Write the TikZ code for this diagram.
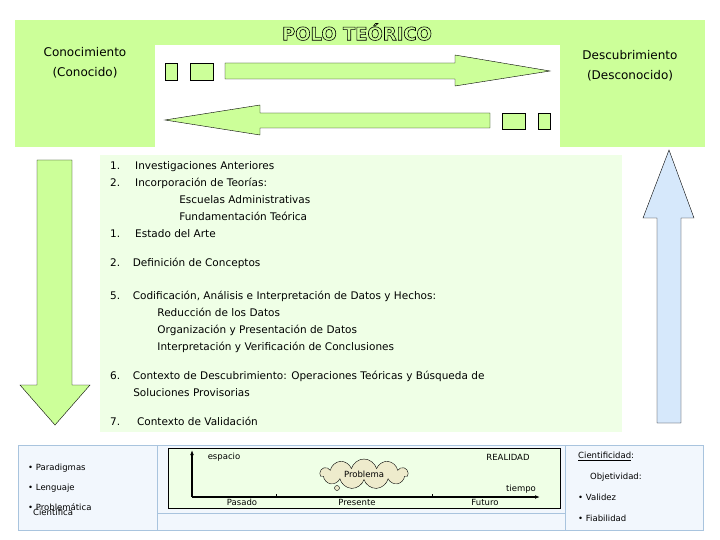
\documentclass[tikz,border=0pt]{standalone}
\usepackage{fontspec}
\setmainfont{DejaVu Sans}
\usetikzlibrary{shapes.symbols,arrows.meta}
\definecolor{lgreen}{HTML}{CCFF99}
\definecolor{pgreen}{HTML}{EFFFE6}
\definecolor{lblue}{HTML}{D6E8FB}
\definecolor{pblue}{HTML}{F2F7FD}
\definecolor{bblue}{HTML}{A9C4DE}
\definecolor{cloudc}{HTML}{EEEBCC}
\begin{document}
\begin{tikzpicture}[x=1pt,y=-1pt,
    font=\fontsize{10.5}{17}\selectfont,
    arr/.style={draw=black, fill=lgreen},
    panel/.style={draw=bblue, fill=pblue},
    item/.style={anchor=west, align=left, inner sep=0pt}
]
\useasboundingbox (0,0) rectangle (720,540);

% Polos
\fill[lgreen] (15,20) rectangle (705,147);
\fill[white] (155,45) rectangle (560,147);
\node (conocido) at (85,63) [align=center, font=\fontsize{12}{20}\selectfont] {Conocimiento\\(Conocido)};
\node (desconocido) at (630,66) [align=center, font=\fontsize{12}{20}\selectfont] {Descubrimiento\\(Desconocido)};
\node (polo) at (357,32) [font=\bfseries\fontsize{18}{18}\selectfont] {\special{pdf:code 1 Tr 0.6 w}POLO TEÓRICO\special{pdf:code 0 Tr}};

% Flechas horizontales
\draw[arr] (165,63) rectangle (177,80);
\draw[arr] (190,63) rectangle (213,80);
\draw[arr] (225,63) -- (455,63) -- (455,55) -- (550,71) -- (455,86) -- (455,79) -- (225,79) -- cycle;
\draw[arr] (538,113) rectangle (550,129);
\draw[arr] (502,113) rectangle (525,129);
\draw[arr] (490,113) -- (260,113) -- (260,105) -- (165,120) -- (260,135) -- (260,128) -- (490,128) -- cycle;

% Flechas verticales
\draw[arr] (37,160) -- (72,160) -- (72,385) -- (90,385) -- (55,425) -- (20,385) -- (37,385) -- cycle;
\draw[arr, fill=lblue] (657,423) -- (657,218) -- (643,218) -- (669,150) -- (694,218) -- (681,218) -- (681,423) -- cycle;

% Contenido
\fill[pgreen] (100,155) rectangle (622,432);
\node[item] (l1) at (110,200) {1.\\2.\\\\\\1.};
\node[item] (t1) at (135,200) {Investigaciones Anteriores\\Incorporación de Teorías:\\
  \hspace{4.2em}Escuelas Administrativas\\\hspace{4.2em}Fundamentación Teórica\\Estado del Arte};
\node[item] (t2) at (110,263) {2.\hspace{1.2em}Definición de Conceptos};
\node[item] (t5) at (110,322) {5.\hspace{1.2em}Codificación, Análisis e Interpretación de Datos y Hechos:\\
  \hspace{4.5em}Reducción de los Datos\\\hspace{4.5em}Organización y Presentación de Datos\\\hspace{4.5em}Interpretación y Verificación de Conclusiones};
\node[item] (t6) at (110,384) {6.\hspace{1.2em}Contexto de Descubrimiento: Operaciones Teóricas y Búsqueda de\\\hspace{2.2em}Soluciones Provisorias};
\node[item] (t7) at (110,421) {7.\hspace{1.6em}Contexto de Validación};

% Paneles inferiores
\draw[panel] (150,445) rectangle (565,530);
\draw[bblue] (150,513) -- (565,513);
\draw[panel] (18,445) rectangle (157,530);
\draw[panel] (565,445) rectangle (703,530);
\node[item, font=\fontsize{8.5}{20}\selectfont] (paradigmas) at (28,487)
  {\textbullet\ Paradigmas\\\textbullet\ Lenguaje\\\textbullet\ Problemática};
\node[item, font=\fontsize{8.5}{10}\selectfont] (cientifica) at (33,512) {Científica};
\node[anchor=north west, align=left, inner sep=0pt, font=\fontsize{8.5}{21}\selectfont] (cientificidad) at (578,452)
  {\underline{Cientificidad}:\\\hspace{1.4em}Objetividad:\\\textbullet\ Validez\\\textbullet\ Fiabilidad};

% Realidad
\draw[fill=pgreen] (168,448) rectangle (560,508);
\coordinate (origen) at (192,497);
\coordinate (arriba) at (192,450);
\coordinate (derecha) at (540,497);
\draw[very thick, -{Latex[length=5pt]}] (origen) -- (arriba);
\draw[very thick, -{Latex[length=5pt]}] (origen) -- (derecha);
\draw (276,494) -- (276,497) (432,494) -- (432,497);
\node[font=\fontsize{8.5}{10}\selectfont] (espacio) at (224,457) {espacio};
\node[font=\fontsize{8.5}{10}\selectfont] (realidad) at (508,457) {REALIDAD};
\node[font=\fontsize{8.5}{10}\selectfont] (tiempo) at (521,489) {tiempo};
\node[font=\fontsize{8.5}{10}\selectfont] (pasado) at (242,502) {Pasado};
\node[font=\fontsize{8.5}{10}\selectfont] (presente) at (357,502) {Presente};
\node[font=\fontsize{8.5}{10}\selectfont] (futuro) at (485,502) {Futuro};
\node[cloud, cloud puffs=11, cloud ignores aspect, draw, fill=cloudc, minimum width=88pt, minimum height=30pt, inner sep=0pt,
  font=\fontsize{8.5}{10}\selectfont] (problema) at (364,474) {Problema};
\draw[fill=cloudc] (337,488) circle (2.5);
\end{tikzpicture}
\end{document}
